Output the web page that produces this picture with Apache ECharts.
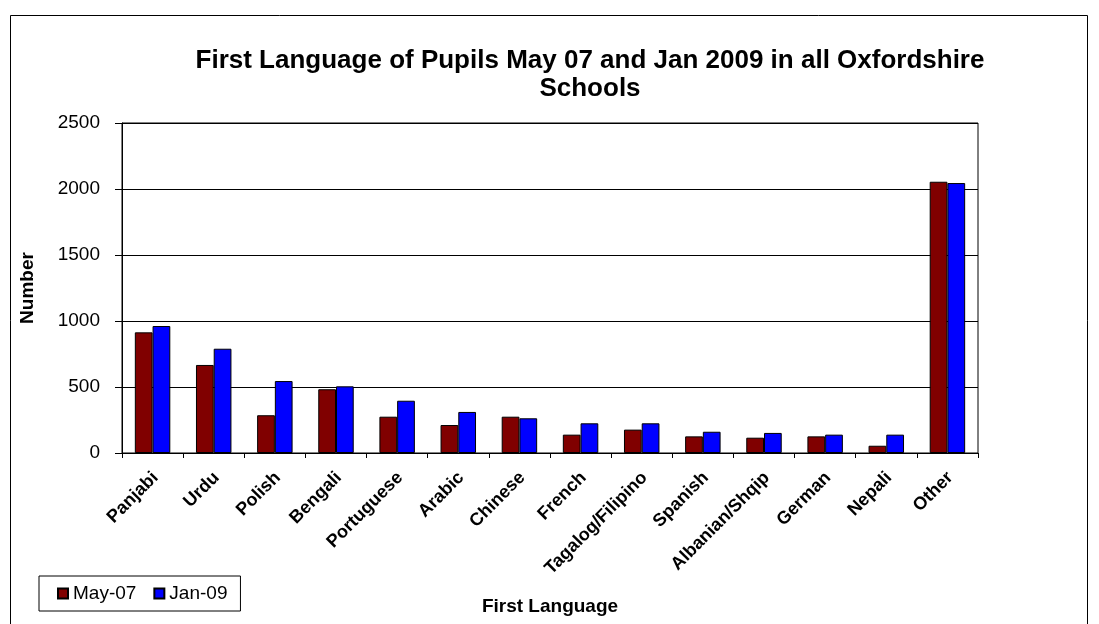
<!DOCTYPE html>
<html>
<head>
<meta charset="utf-8">
<title>First Language of Pupils</title>
<script src="https://cdn.jsdelivr.net/npm/echarts@6/dist/echarts.min.js"></script>
<style>
  html, body { margin: 0; padding: 0; background: #fff; }
  #chart { width: 1099px; height: 624px; }
</style>
</head>
<body>
<div id="chart"></div>
<script>
// Pupils by first language, May 2007 vs January 2009
const languages = ['Panjabi', 'Urdu', 'Polish', 'Bengali', 'Portuguese', 'Arabic', 'Chinese',
  'French', 'Tagalog/Filipino', 'Spanish', 'Albanian/Shqip', 'German', 'Nepali', 'Other'];
const may07 = [914, 667, 286, 483, 275, 212, 275, 139, 177, 126, 116, 126, 55, 2055];
const jan09 = [962, 790, 545, 505, 396, 311, 263, 225, 225, 161, 152, 139, 139, 2045];
const seriesNames = ['May-07', 'Jan-09'];
const yTicks = { min: 0, max: 2500, interval: 500 };

const FONT = "'Liberation Sans', Arial, sans-serif";
const chart = echarts.init(document.getElementById('chart'), null, { renderer: 'canvas' });

chart.setOption({
  animation: false,
  backgroundColor: '#ffffff',
  textStyle: { fontFamily: FONT, color: '#000' },
  graphic: [{
    type: 'rect',
    shape: { x: 10.5, y: 15.5, width: 1077, height: 640 },
    style: { fill: 'none', stroke: '#000', lineWidth: 1 },
    silent: true
  }],
  title: {
    text: 'First Language of Pupils May 07 and Jan 2009 in all Oxfordshire\nSchools',
    left: 585,
    top: 42,
    textAlign: 'center',
    textStyle: { fontFamily: FONT, fontSize: 26, fontWeight: 'bold', color: '#000', lineHeight: 28 }
  },
  legend: {
    left: 39,
    top: 576,
    orient: 'horizontal',
    data: seriesNames,
    icon: 'rect',
    itemWidth: 10,
    itemHeight: 10,
    itemGap: 17,
    padding: [8, 13, 8, 18],
    borderColor: '#000',
    borderWidth: 1,
    textStyle: { fontFamily: FONT, fontSize: 19, color: '#000' }
  },
  grid: {
    left: 122,
    right: 121,
    top: 123,
    bottom: 171,
    show: true,
    borderColor: '#000',
    borderWidth: 1,
    containLabel: false,
    outerBoundsMode: 'none'
  },
  xAxis: {
    type: 'category',
    data: languages,
    name: 'First Language',
    nameLocation: 'middle',
    nameGap: 144,
    nameTextStyle: { fontFamily: FONT, fontSize: 19, fontWeight: 'bold', color: '#000' },
    axisLine: { lineStyle: { color: '#000', width: 1 } },
    axisTick: { show: true, length: 5, lineStyle: { color: '#000' } },
    axisLabel: {
      interval: 0,
      rotate: 45,
      align: 'right',
      verticalAlign: 'top',
      margin: 12,
      padding: [0, 5, 0, 0],
      fontFamily: FONT,
      fontSize: 18,
      fontWeight: 'bold',
      color: '#000'
    }
  },
  yAxis: {
    type: 'value',
    min: yTicks.min,
    max: yTicks.max,
    interval: yTicks.interval,
    name: 'Number',
    nameLocation: 'middle',
    nameGap: 85,
    nameTextStyle: { fontFamily: FONT, fontSize: 19, fontWeight: 'bold', color: '#000' },
    axisLine: { show: true, lineStyle: { color: '#000', width: 1 } },
    axisTick: { show: true, length: 7, lineStyle: { color: '#000' } },
    axisLabel: {
      margin: 22,
      fontFamily: FONT,
      fontSize: 19,
      color: '#000',
      formatter: (v) => String(v)
    },
    splitLine: { show: true, lineStyle: { color: '#000', width: 1 } }
  },
  series: [
    {
      name: seriesNames[0],
      type: 'bar',
      data: may07,
      barGap: '0%',
      barCategoryGap: '42%',
      itemStyle: { color: '#800000', borderColor: '#000', borderWidth: 1 }
    },
    {
      name: seriesNames[1],
      type: 'bar',
      data: jan09,
      barGap: '0%',
      barCategoryGap: '42%',
      itemStyle: { color: '#0000ff', borderColor: '#000', borderWidth: 1 }
    }
  ]
});
</script>
</body>
</html>
